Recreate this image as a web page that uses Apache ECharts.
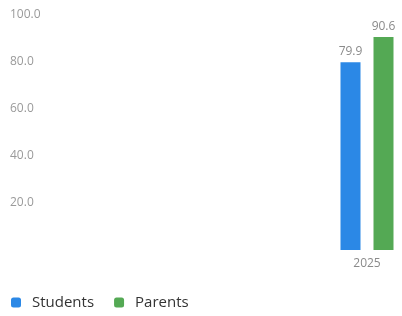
<!DOCTYPE html>
<html>
<head>
<meta charset="utf-8">
<script src="https://cdn.jsdelivr.net/npm/echarts@6/dist/echarts.min.js"></script>
<style>
  html,body{margin:0;padding:0;background:#fff;}
  #chart{width:402px;height:316px;}
</style>
</head>
<body>
<div id="chart"></div>
<script>
const years = ['2025'];
const studentValues = [79.9];
const parentValues = [90.6];
const seriesNames = ['Students', 'Parents'];

const chart = echarts.init(document.getElementById('chart'));

const labelStyle = {
    show: true,
    position: 'top',
    color: '#8a8a8a',
    fontSize: 12,
    fontFamily: 'Open Sans',
    formatter: p => p.value.toFixed(1)
};

const option = {
    animation: false,
    color: ['#2b88e6', '#54a954'],
    grid: {
        left: 340,
        right: 8,
        top: 15,
        bottom: 66
    },
    legend: {
        left: 6,
        top: 290,
        itemWidth: 10,
        itemHeight: 10,
        itemGap: 20,
        icon: 'roundRect',
        textStyle: {
            color: '#333',
            fontSize: 15,
            fontFamily: 'Open Sans',
            padding: [0, 0, 0, 6]
        },
        data: seriesNames
    },
    xAxis: {
        type: 'category',
        data: years,
        axisLine: { show: false },
        axisTick: { show: false },
        axisLabel: {
            color: '#8a8a8a',
            fontSize: 12,
            fontFamily: 'Open Sans',
            margin: 8
        }
    },
    yAxis: {
        type: 'value',
        min: 0,
        max: 100,
        interval: 20,
        splitLine: { show: false },
        axisLine: { show: false },
        axisTick: { show: false },
        axisLabel: {
            showMinLabel: false,
            color: '#9a9a9a',
            fontSize: 12,
            fontFamily: 'Open Sans',
            align: 'left',
            margin: 330,
            formatter: v => v.toFixed(1)
        }
    },
    series: [
        {
            name: seriesNames[0],
            type: 'bar',
            data: studentValues,
            barWidth: 20,
            barGap: '65%',
            label: labelStyle
        },
        {
            name: seriesNames[1],
            type: 'bar',
            data: parentValues,
            barWidth: 20,
            label: labelStyle
        }
    ]
};

chart.setOption(option);
</script>
</body>
</html>
